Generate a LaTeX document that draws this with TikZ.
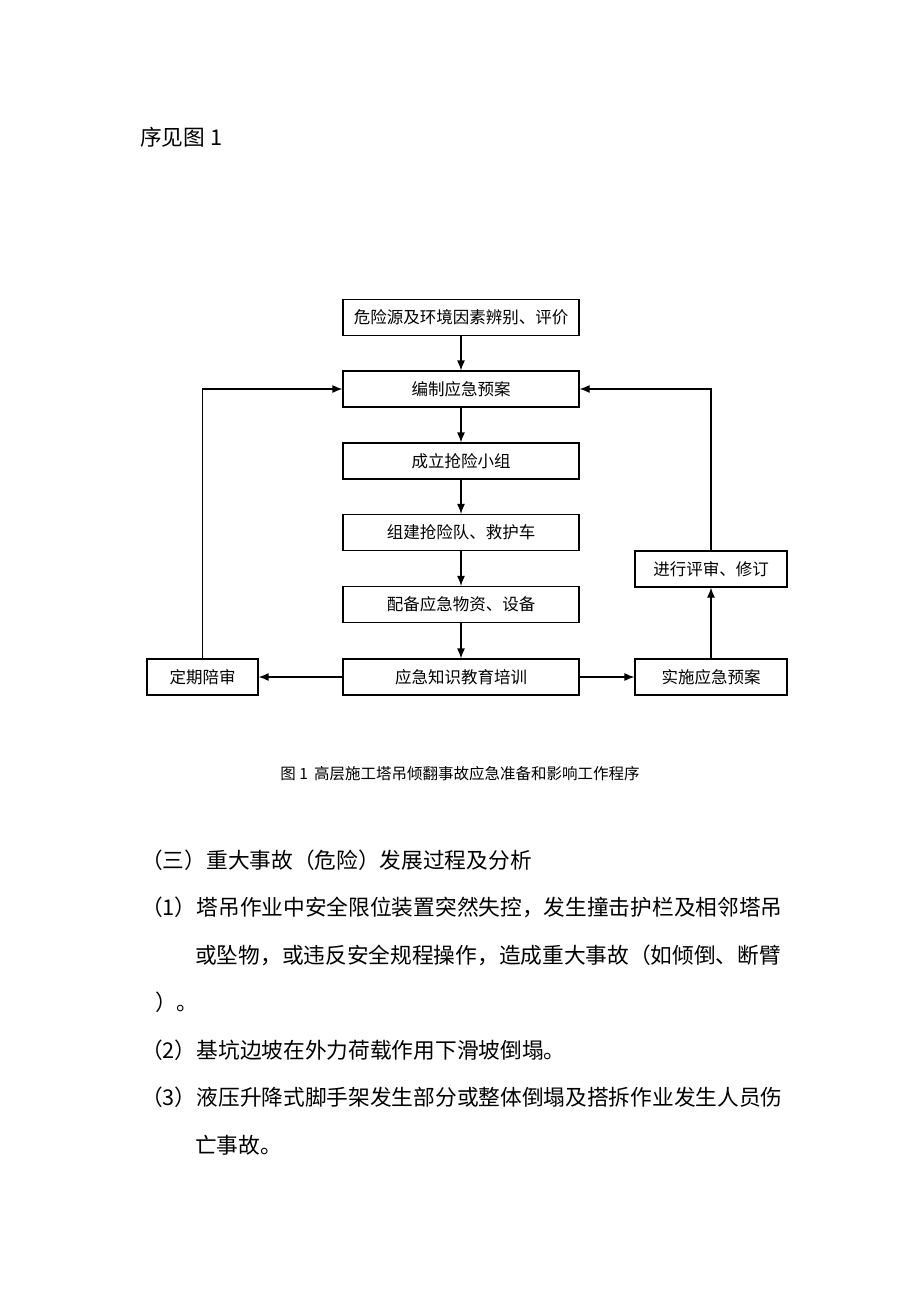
\documentclass[tikz,border=0pt]{standalone}
\usepackage{fontspec}
\newfontfamily\cjk{Noto Sans CJK SC}
\usetikzlibrary{arrows.meta}
\begin{document}
\begin{tikzpicture}[x=1pt,y=-1pt,
  box/.style={draw,line width=1.2pt,minimum width=236pt,minimum height=36pt,inner sep=0pt,font=\cjk\fontsize{16.5}{18}\selectfont},
  arr/.style={-{Latex[length=10pt,width=8pt]},line width=1.2pt},
  body/.style={anchor=west,inner sep=0pt,font=\cjk\fontsize{21.7}{24}\selectfont}]
\fill[white] (0,0) rectangle (920,1302);
\useasboundingbox (0,0) rectangle (920,1302);

\node[body] (h) at (140,137) {序见图 1};

\node[box] (b1) at (461,317.5) {危险源及环境因素辨别、评价};
\node[box] (b2) at (461,389) {编制应急预案};
\node[box] (b3) at (461,461) {成立抢险小组};
\node[box] (b4) at (461,532.5) {组建抢险队、救护车};
\node[box] (b5) at (461,604.5) {配备应急物资、设备};
\node[box] (b6) at (461,677) {应急知识教育培训};
\node[box,minimum width=111pt] (L) at (202.5,677) {定期陪审};
\node[box,minimum width=152pt] (R) at (711,677) {实施应急预案};
\node[box,minimum width=152pt] (V) at (711,569) {进行评审、修订};

\draw[arr] (b1) -- (b2);
\draw[arr] (b2) -- (b3);
\draw[arr] (b3) -- (b4);
\draw[arr] (b4) -- (b5);
\draw[arr] (b5) -- (b6);
\draw[arr] (b6) -- (L);
\draw[arr] (b6) -- (R);
\draw[arr] (R) -- (V);
\draw[arr] (V.north) |- (b2.east);
\draw[arr] (L.north) |- (b2.west);

\node[inner sep=0pt,font=\cjk\fontsize{15.5}{17}\selectfont] (cap) at (460,774) {图 1\, 高层施工塔吊倾翻事故应急准备和影响工作程序};

\node[body] (t0) at (141,860) {（三）重大事故（危险）发展过程及分析};
\node[body] (t1) at (141,907) {（1）塔吊作业中安全限位装置突然失控，发生撞击护栏及相邻塔吊};
\node[body] (t1b) at (195,955) {或坠物，或违反安全规程操作，造成重大事故（如倾倒、断臂};
\node[body] (t1c) at (155,1002) {）。};
\node[body] (t2) at (141,1050) {（2）基坑边坡在外力荷载作用下滑坡倒塌。};
\node[body] (t3) at (141,1097) {（3）液压升降式脚手架发生部分或整体倒塌及搭拆作业发生人员伤};
\node[body] (t3b) at (195,1145) {亡事故。};
\end{tikzpicture}
\end{document}
